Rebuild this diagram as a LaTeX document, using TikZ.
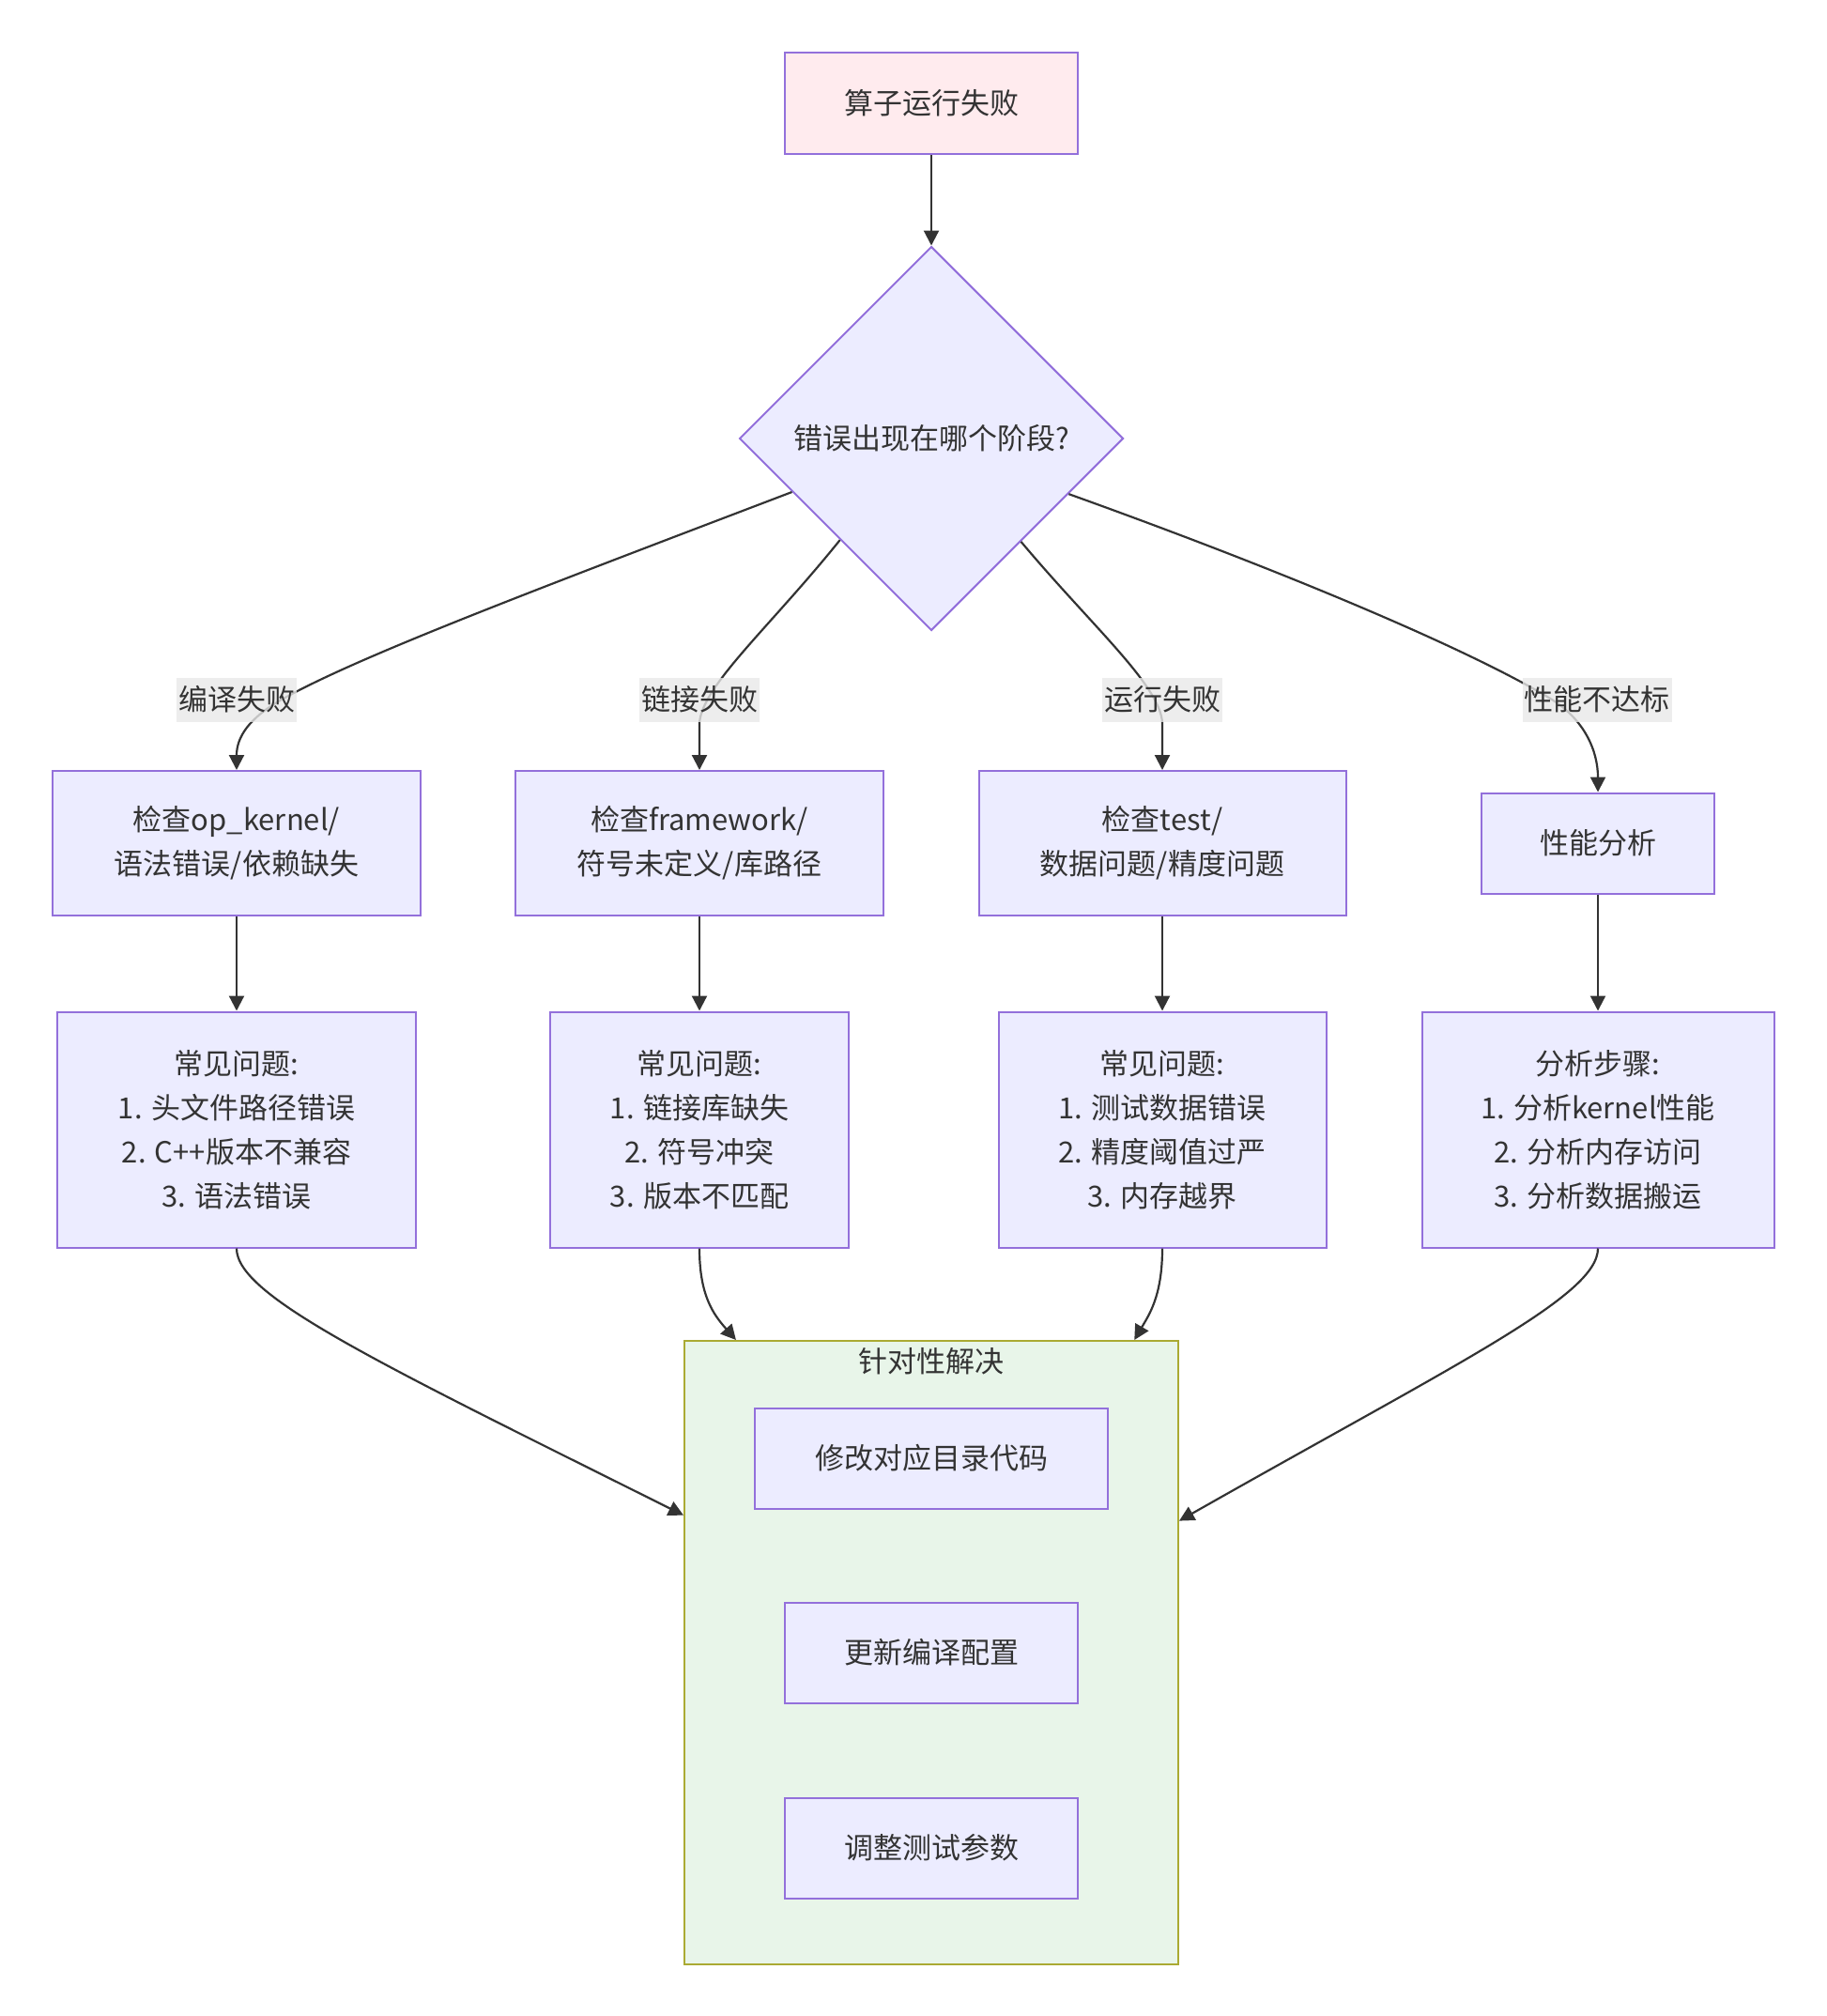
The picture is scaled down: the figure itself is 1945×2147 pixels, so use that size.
\documentclass[tikz,border=0pt]{standalone}
\usepackage{fontspec}
\setmainfont{Noto Sans CJK SC}
\usepackage{tikz}
\usetikzlibrary{arrows.meta, shapes.geometric, positioning}
\definecolor{NodeFill}{RGB}{236,236,255}
\definecolor{NodeBorder}{RGB}{147,112,219}
\definecolor{StartFill}{RGB}{255,235,238}
\definecolor{ClusterFill}{RGB}{232,245,233}
\definecolor{ClusterBorder}{RGB}{170,170,51}
\definecolor{LabelGray}{RGB}{232,232,232}
\definecolor{InkColor}{RGB}{51,51,51}
\tikzstyle{box} = [draw=NodeBorder, fill=NodeFill, line width=1pt, align=center, inner sep=0pt, text=InkColor, font=\fontsize{15.5}{23.5}\selectfont]
\tikzstyle{decision} = [box, diamond, aspect=1, minimum width=204.5pt, minimum height=204.5pt]
\tikzstyle{edgelabel} = [fill=LabelGray, fill opacity=0.8, text opacity=1, text=InkColor, inner xsep=1pt, inner ysep=0pt, minimum height=23.5pt, font=\fontsize{15.5}{23.5}\selectfont]
\tikzstyle{cluster} = [draw=ClusterBorder, fill=ClusterFill, line width=1pt, minimum width=263pt, minimum height=332pt]
\tikzstyle{arrow} = [line width=1.1pt, InkColor, -{Triangle[length=8pt, width=8pt]}]

\begin{document}
\begin{tikzpicture}[x=0.5pt, y=-0.5pt]
        \useasboundingbox (0,0) rectangle (1945,2147);

        % Solution group
        \node[cluster] (sol) at (992,1760) {};
        \node[text=InkColor, font=\fontsize{15.5}{23.5}\selectfont] (soltitle) at (992,1450) {针对性解决};
        \node[box, minimum width=188pt, minimum height=53.5pt] (fixcode) at (992,1553) {修改对应目录代码};
        \node[box, minimum width=156pt, minimum height=53.5pt] (fixconf) at (992,1760) {更新编译配置};
        \node[box, minimum width=156pt, minimum height=53.5pt] (fixtest) at (992,1968) {调整测试参数};

        % Start and decision
        \node[box, fill=StartFill, minimum width=156pt, minimum height=54pt] (fail) at (992,110) {算子运行失败};
        \node[decision] (stage) at (992,467) {错误出现在哪个阶段?};

        % Checks
        \node[box, minimum width=196pt, minimum height=77pt] (chkop) at (252,898) {检查op\_kernel/\\语法错误/依赖缺失};
        \node[box, minimum width=196pt, minimum height=77pt] (chkfw) at (745,898) {检查framework/\\符号未定义/库路径};
        \node[box, minimum width=195.5pt, minimum height=77pt] (chktest) at (1238,898) {检查test/\\数据问题/精度问题};
        \node[box, minimum width=124pt, minimum height=53.5pt] (perf) at (1702,898) {性能分析};

        % Details
        \node[box, minimum width=191pt, minimum height=125.5pt] (issop) at (252,1203) {常见问题:\\1. 头文件路径错误\\2. C++版本不兼容\\3. 语法错误};
        \node[box, minimum width=159pt, minimum height=125.5pt] (issfw) at (745,1203) {常见问题:\\1. 链接库缺失\\2. 符号冲突\\3. 版本不匹配};
        \node[box, minimum width=174.5pt, minimum height=125.5pt] (isstest) at (1238,1203) {常见问题:\\1. 测试数据错误\\2. 精度阈值过严\\3. 内存越界};
        \node[box, minimum width=187.5pt, minimum height=125.5pt] (stepperf) at (1702,1203) {分析步骤:\\1. 分析kernel性能\\2. 分析内存访问\\3. 分析数据搬运};

        % Edges
        \draw[arrow] (fail.south) -- (stage.north);
        \draw[arrow] (stage.201.3) .. controls (560,632) and (380,700) .. (300,745) .. controls (265,765) and (252,785) .. (chkop.north);
        \draw[arrow] (stage.228.7) .. controls (820,668) and (748,730) .. (745,770) -- (chkfw.north);
        \draw[arrow] (stage.311.3) .. controls (1164,668) and (1236,730) .. (1238,770) -- (chktest.north);
        \draw[arrow] (stage.338.3) .. controls (1400,620) and (1580,700) .. (1653,745) .. controls (1688,767) and (1702,800) .. (perf.north);

        \draw[arrow] (chkop) -- (issop);
        \draw[arrow] (chkfw) -- (issfw);
        \draw[arrow] (chktest) -- (isstest);
        \draw[arrow] (perf) -- (stepperf);

        \draw[arrow] (issop.south) .. controls (252,1380) and (400,1450) .. (sol.151.8);
        \draw[arrow] (issfw.south) .. controls (745,1380) and (760,1400) .. (sol.122.8);
        \draw[arrow] (isstest.south) .. controls (1238,1380) and (1224,1400) .. (sol.57.2);
        \draw[arrow] (stepperf.south) .. controls (1702,1380) and (1555,1450) .. (sol.28.2);

        % Edge labels
        \node[edgelabel] (lblcompile) at (252,745) {编译失败};
        \node[edgelabel] (lbllink) at (745,745) {链接失败};
        \node[edgelabel] (lblrun) at (1238,745) {运行失败};
        \node[edgelabel] (lblperf) at (1701,745) {性能不达标};

      \end{tikzpicture}
\end{document}
